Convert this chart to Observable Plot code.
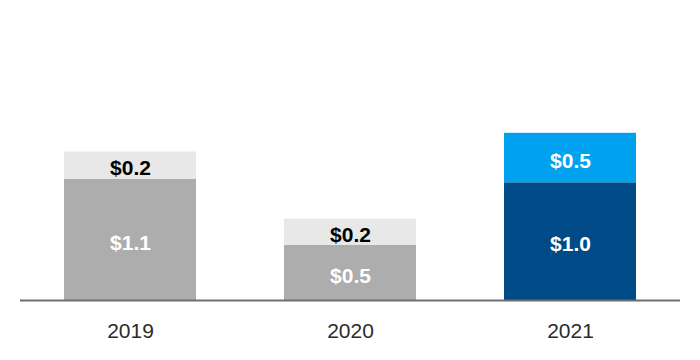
<!DOCTYPE html>
<html>
<head>
<meta charset="utf-8">
<script src="https://cdn.jsdelivr.net/npm/d3@7"></script>
<script src="https://cdn.jsdelivr.net/npm/@observablehq/plot@0.6"></script>
<style>
  html, body { margin: 0; padding: 0; background: #fff; }
  #chart svg { display: block; }
</style>
</head>
<body>
<div id="chart"></div>
<script>
const years = ["2019", "2020", "2021"];
const baseValues = [1.1, 0.5, 1.07];
const addValues = [0.25, 0.24, 0.45];
const baseLabels = ["$1.1", "$0.5", "$1.0"];
const addLabels = ["$0.2", "$0.2", "$0.5"];
const segmentKeys = ["prior-base", "prior-add", "current-base", "current-add"];
const segmentColors = ["#adadad", "#e8e8e8", "#004b87", "#00a2ef"];

const data = [];
years.forEach((year, i) => {
  const current = year === "2021";
  data.push({year, value: baseValues[i], label: baseLabels[i], seg: current ? "current-base" : "prior-base", darkText: false});
  data.push({year, value: addValues[i], label: addLabels[i], seg: current ? "current-add" : "prior-add", darkText: !current});
});

const font = "'Liberation Sans', Arial, sans-serif";

const chart = Plot.plot({
  width: 700,
  height: 360,
  marginTop: 25,
  marginBottom: 60,
  marginLeft: 20,
  marginRight: 20,
  style: {fontFamily: font, background: "#fff"},
  x: {domain: years, paddingInner: 0.4, paddingOuter: 0.2, label: null, tickSize: 0, tickPadding: 23},
  y: {domain: [0, 2.5], axis: null},
  color: {domain: segmentKeys, range: segmentColors},
  marks: [
    Plot.barY(data, Plot.stackY({x: "year", y: "value", fill: "seg", z: "seg"})),
    Plot.text(data, Plot.stackY({x: "year", y: "value", z: "seg", text: d => d.darkText ? "" : d.label, fill: "white", fontSize: 21, fontWeight: "bold", dy: 3})),
    Plot.text(data, Plot.stackY({x: "year", y: "value", z: "seg", text: d => d.darkText ? d.label : "", fill: "black", fontSize: 21, fontWeight: "bold", dy: 3})),
    Plot.ruleY([0], {stroke: "#6e6e6e", strokeWidth: 2}),
    Plot.axisX({tickSize: 0, tickPadding: 23, fontSize: 21, fill: "#2b2b2b", label: null})
  ]
});
document.getElementById("chart").appendChild(chart);
</script>
</body>
</html>
